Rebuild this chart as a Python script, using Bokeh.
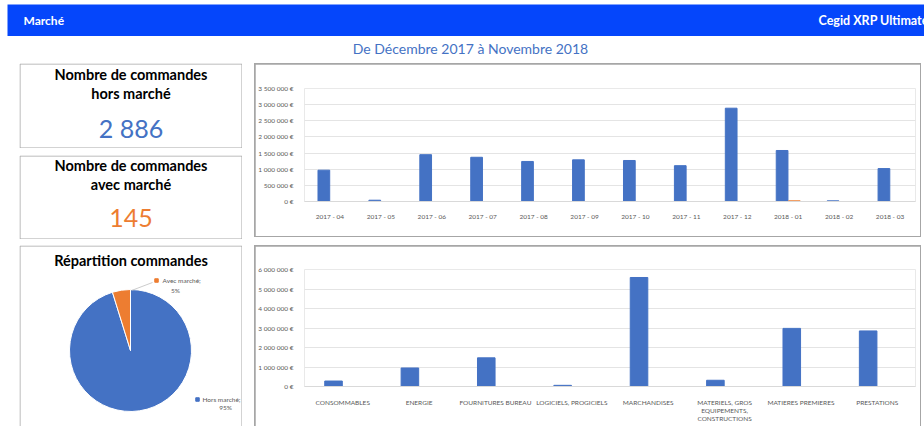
import math
from bokeh.plotting import figure
from bokeh.models import (Range1d, FactorRange, ColumnDataSource, Label,
                          SingleIntervalTicker, CustomJSTickFormatter, Spacer)
from bokeh.layouts import column, row
from bokeh.transform import dodge
from bokeh.core.properties import value
from bokeh.embed import file_html
from bokeh.resources import INLINE

# ---------------- data ----------------
header_left = "Marché"
header_right = "Cegid XRP Ultimate"
subtitle = "De Décembre 2017 à Novembre 2018"

series_labels = ["Hors marché", "Avec marché"]
nb_commandes = [2886, 145]

kpi_titles = [["Nombre de commandes", "hors marché"], ["Nombre de commandes", "avec marché"]]
pie_title = "Répartition commandes"

chart1_title = "Montant facturé avec/hors marché"
mois = ["2017 - 04", "2017 - 05", "2017 - 06", "2017 - 07", "2017 - 08", "2017 - 09",
        "2017 - 10", "2017 - 11", "2017 - 12", "2018 - 01", "2018 - 02", "2018 - 03"]
montant_hors_mois = [970000, 40000, 1450000, 1370000, 1240000, 1290000,
                     1270000, 1110000, 2890000, 1580000, 20000, 1020000]
montant_avec_mois = [0, 0, 0, 0, 0, 0, 0, 0, 0, 20000, 0, 0]

chart2_title = "Montant facturé avec/hors marché par famille d'articles"
familles = ["CONSOMMABLES", "ENERGIE", "FOURNITURES BUREAU", "LOGICIELS, PROGICIELS",
            "MARCHANDISES", "MATERIELS, GROS\nEQUIPEMENTS,\nCONSTRUCTIONS",
            "MATIERES PREMIERES", "PRESTATIONS"]
montant_hors_fam = [280000, 950000, 1470000, 60000, 5590000, 320000, 2980000, 2850000]
montant_avec_fam = [0, 0, 0, 0, 0, 0, 0, 0]

# ---------------- style ----------------
BLUE = "#4472C4"
ORANGE = "#ED7D31"
HEADER = "#0546FB"
BORDER = "#a6a6a6"
GREY = "#595959"
FONT = value("Lato")
W = 665  # inner width of the chart panels


def canvas(w, h, bg="white", flip=True):
    p = figure(width=w, height=h, x_range=Range1d(0, w),
               y_range=Range1d(h, 0) if flip else Range1d(0, h),
               x_axis_type=None, y_axis_type=None, output_backend="svg",
               toolbar_location=None, min_border=0)
    p.grid.visible = False
    p.outline_line_color = None
    p.background_fill_color = bg
    p.border_fill_color = bg
    return p


def txt(p, x, y, s, size, color="black", bold=False, align="center"):
    p.text(x=[x], y=[y], text=[s], text_font=FONT, text_font_size=size,
           text_font_style="bold" if bold else "normal", text_color=color,
           text_align=align, text_baseline="middle")


# header
header = canvas(917, 32, HEADER)
txt(header, 16, 16, header_left, "12px", "white", True, "left")
txt(header, 811, 16, header_right, "12.5px", "white", True, "left")

# subtitle
sub = canvas(924, 27)
txt(sub, 470, 12, subtitle, "14px", BLUE)


# KPI boxes
def kpi_box(h, lines, number, color, ys):
    p = canvas(223, h)
    p.line(x=[0.5, 222.5, 222.5, 0.5, 0.5], y=[0.5, 0.5, h - 0.5, h - 0.5, 0.5],
           line_color=BORDER, line_width=1)
    txt(p, 111.5, ys[0], lines[0], "14.5px", "black", True)
    txt(p, 111.5, ys[1], lines[1], "14.5px", "black", True)
    txt(p, 111.5, ys[2], f"{number:,}".replace(",", " "), "25px", color)
    return p


box1 = kpi_box(85, kpi_titles[0], nb_commandes[0], BLUE, [11, 30, 64])
box2 = kpi_box(84, kpi_titles[1], nb_commandes[1], ORANGE, [10, 29, 62])

# pie
PH = 181
pie = canvas(223, PH, flip=False)
pie.line(x=[0.5, 0.5, 222.5, 222.5], y=[-5, PH - 0.5, PH - 0.5, -5], line_color=BORDER)
total = sum(nb_commandes)
fracs = [v / total for v in nb_commandes]
starts, ends, cum = [], [], 0.0
for f in fracs:
    starts.append(math.pi / 2 - 2 * math.pi * cum)
    cum += f
    ends.append(math.pi / 2 - 2 * math.pi * cum)
psrc = ColumnDataSource(dict(start=starts, end=ends, color=[BLUE, ORANGE]))
pie.wedge(x=111, y=76, radius=61, start_angle="start", end_angle="end",
          direction="clock", fill_color="color", line_color="white", line_width=1,
          source=psrc)
pie.text(x=[111.5], y=[166], text=[pie_title], text_font=FONT, text_font_size="14.5px",
         text_font_style="bold", text_align="center", text_baseline="middle")
pcts = [f"{round(f * 100)}%" for f in fracs]
pie.line(x=[112, 133], y=[136, 144], line_color="#bfbfbf", line_width=0.8)
pie.scatter(x=[137, 178], y=[146, 27], marker="square", size=3.5,
            color=[ORANGE, BLUE])
pie.text(x=[143, 183], y=[146, 27], text=[series_labels[1] + ";", series_labels[0] + ";"],
         text_font=FONT, text_font_size="6.5px", text_color=GREY,
         text_align="left", text_baseline="middle")
pie.text(x=[156, 206], y=[136, 19], text=[pcts[1], pcts[0]],
         text_font=FONT, text_font_size="6.5px", text_color=GREY,
         text_align="center", text_baseline="middle")


# bar charts (panel-local pixel geometry of the frame, used to place annotations)
def bar_chart(title, cats, hors, avec, h, ymax, step, mb_top, mb_bottom, standoff,
              title_px, legend_px):
    src = ColumnDataSource(dict(cat=cats, hors=hors, avec=avec))
    ML, MR = 42, 5
    p = figure(width=W, height=h, x_range=FactorRange(*cats, range_padding=0),
               y_range=Range1d(0, ymax), output_backend="svg", toolbar_location=None,
               min_border_left=ML, min_border_right=MR, min_border_top=mb_top,
               min_border_bottom=mb_bottom)
    p.vbar(x=dodge("cat", -0.12, range=p.x_range), top="hors", width=0.23,
           source=src, color=BLUE)
    p.vbar(x=dodge("cat", 0.12, range=p.x_range), top="avec", width=0.23,
           source=src, color=ORANGE)
    p.outline_line_color = None
    p.xgrid.grid_line_color = None
    p.ygrid.grid_line_color = "#e4e4e4"
    p.yaxis.ticker = SingleIntervalTicker(interval=step)
    p.yaxis.formatter = CustomJSTickFormatter(
        code="return tick.toFixed(0).replace(/\\B(?=(\\d{3})+(?!\\d))/g, ' ') + ' €';")
    for ax in (p.xaxis, p.yaxis):
        ax.major_tick_line_color = None
        ax.minor_tick_line_color = None
        ax.major_label_text_font = "Lato"
        ax.major_label_text_font_size = "6.5px"
        ax.major_label_text_color = GREY
    p.yaxis.axis_line_color = None
    p.yaxis.major_label_standoff = 5
    p.xaxis.axis_line_color = "#d9d9d9"
    p.xaxis.major_label_standoff = standoff

    # convert panel pixel positions into data coordinates of this chart
    fw = W - ML - MR
    fh = h - mb_top - mb_bottom
    n = len(cats)

    def dx(px):
        return (px - ML) / fw * n

    def dy(py):
        return (h - mb_bottom - py) / fh * ymax

    p.add_layout(Label(x=dx(title_px[0]), y=dy(title_px[1]), text=title,
                       text_font="Lato", text_font_size="14px", text_font_style="bold",
                       text_color="black", text_align="center", text_baseline="middle"))
    (sq1, tx1, sq2, tx2), ly = legend_px
    for sq, tx, lab, col in ((sq1, tx1, series_labels[0], BLUE),
                             (sq2, tx2, series_labels[1], ORANGE)):
        p.add_layout(Label(x=dx(sq), y=dy(ly), text="■", text_font="DejaVu Sans",
                           text_font_size="5px", text_color=col, text_align="center",
                           text_baseline="middle"))
        p.add_layout(Label(x=dx(tx), y=dy(ly), text=lab, text_font="Lato",
                           text_font_size="6.5px", text_color=GREY, text_align="left",
                           text_baseline="middle"))
    return p


chart1 = bar_chart(chart1_title, mois, montant_hors_mois, montant_avec_mois, 172,
                   3500000, 500000, 24, 35, 5,
                   (333, 13), ((279, 283, 349, 353), 162))
chart2 = bar_chart(chart2_title, familles, montant_hors_fam, montant_avec_fam, 180,
                   6000000, 1000000, 23, 40, 6,
                   (333, 14.5), ((284, 288, 346, 350), 173))

panel1 = column(chart1, styles={"padding": "1px", "background-color": BORDER})
panel2 = column(chart2, styles={"padding": "1px 1px 0 1px", "background-color": BORDER})

left = column(box1, Spacer(height=7), box2, Spacer(height=6), pie)
right = column(panel1, Spacer(height=8), panel2)
main = row(Spacer(width=19, height=363), left, Spacer(width=12, height=363), right)
top = row(Spacer(width=7, height=32), header)
layout = column(Spacer(height=4, width=924), top, sub, main)

open("out.html", "w").write(file_html(layout, INLINE))
